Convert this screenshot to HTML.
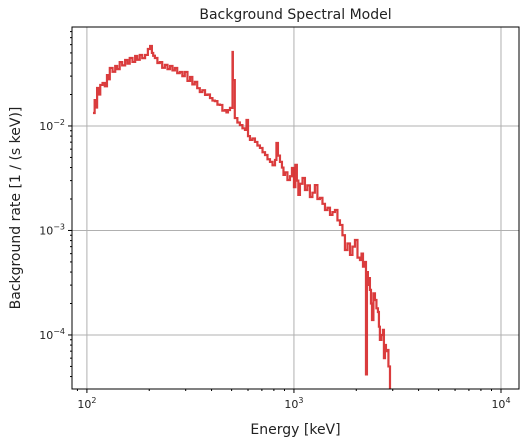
<!DOCTYPE html>
<html><head><meta charset="utf-8">
<style>
body{margin:0;background:#fff;font-family:"Liberation Sans","DejaVu Sans",sans-serif;}
svg text{font-family:"DejaVu Sans","Liberation Sans",sans-serif;fill:#222;}
</style></head>
<body>
<svg id="chart" width="527" height="442" xmlns="http://www.w3.org/2000/svg"></svg>
<script>
const energies=[107,109,111,112,114,116,119,122,125,127,129,133,137,140,144,148,153,157,161,166,171,175,180,185,191,197,202,206,209,213,219,225,231,238,245,252,259,266,273,281,289,297,306,315,323,332,341,351,361,372,382,393,404,415,427,439,451,464,472,480,491,505,507,518,533,548,564,580,590,600,613,630,648,666,685,705,725,745,766,788,810,823,837,856,875,890,905,930,957,978,1000,1016,1033,1050,1069,1100,1130,1160,1194,1228,1262,1298,1335,1373,1412,1452,1493,1535,1578,1622,1668,1715,1763,1813,1865,1917,1971,2027,2084,2120,2155,2190,2228,2252,2276,2302,2328,2355,2382,2420,2462,2503,2545,2573,2601,2645,2690,2720,2752,2782,2813,2860,2910];
const rates=[0.0133,0.0177,0.0150,0.0231,0.0200,0.0247,0.0258,0.0240,0.0307,0.0280,0.0359,0.0330,0.0375,0.0350,0.0409,0.0380,0.0428,0.0395,0.0447,0.0410,0.0468,0.0430,0.0478,0.0445,0.0478,0.0545,0.0583,0.0500,0.0470,0.0447,0.0400,0.0409,0.0360,0.0384,0.0350,0.0375,0.0340,0.0359,0.0320,0.0329,0.0300,0.0329,0.0270,0.0294,0.0250,0.0264,0.0230,0.0211,0.0220,0.0198,0.0200,0.0185,0.0175,0.0173,0.0160,0.0159,0.0140,0.0142,0.0135,0.0142,0.0149,0.0510,0.0275,0.0119,0.0108,0.0102,0.0095,0.00916,0.0114,0.00800,0.00735,0.00760,0.00703,0.00650,0.00616,0.00560,0.00527,0.00480,0.00453,0.00420,0.00473,0.00687,0.00520,0.00453,0.00400,0.00340,0.00360,0.00304,0.00330,0.00396,0.00260,0.00424,0.00300,0.00219,0.00280,0.00318,0.00244,0.00270,0.00209,0.00230,0.00272,0.00200,0.00205,0.00180,0.00157,0.00165,0.00141,0.00150,0.00157,0.00125,0.00113,0.00090,0.00065,0.00075,0.000583,0.00070,0.00081,0.00055,0.000522,0.00060,0.00045,0.00050,0.000042,0.00040,0.000301,0.00035,0.000270,0.00020,0.000139,0.00025,0.000216,0.00018,0.000166,0.00012,0.0000896,0.00010,0.000112,0.00006,0.0000802,0.00007,0.0000718,0.00005,0.0000304];
const xTicks=[100,1000,10000];
const xTickLabels=[["10","2"],["10","3"],["10","4"]];
const yTicks=[1e-2,1e-3,1e-4];
const yTickLabels=[["10","−2"],["10","−3"],["10","−4"]];

const L=72,R=519,T=27,B=389;
const xmin=1.928,xmax=4.087,ymin=-4.517,ymax=-1.053;
const xs=v=>L+(Math.log10(v)-xmin)/(xmax-xmin)*(R-L);
const ys=v=>B-(Math.log10(v)-ymin)/(ymax-ymin)*(B-T);
const svg=document.getElementById('chart');
const NS="http://www.w3.org/2000/svg";
function mk(tag,attrs,parent){const e=document.createElementNS(NS,tag);for(const k in attrs)e.setAttribute(k,attrs[k]);(parent||svg).appendChild(e);return e;}

const defs=mk('defs',{});const cp=mk('clipPath',{id:'clip'},defs);mk('rect',{x:L,y:T,width:R-L,height:B-T},cp);

xTicks.forEach(v=>{const g=mk('line',{x1:xs(v),x2:xs(v),y1:T,y2:B,stroke:'#b0b0b0','stroke-width':1});

});
yTicks.forEach(v=>{const g=mk('line',{x1:L,x2:R,y1:ys(v),y2:ys(v),stroke:'#b0b0b0','stroke-width':1});

});

let d='';
for(let i=0;i<energies.length;i++){
  const x=xs(energies[i]),y=ys(Math.max(rates[i],1e-6));
  if(i===0)d+=`M${x},${y}`;else d+=`H${x}V${y}`;
}
const ser=mk('path',{d:d,fill:'none',stroke:'#d62728','stroke-opacity':0.9,'stroke-width':2.2});


ser.setAttribute('clip-path','url(#clip)');

const fr=mk('rect',{x:L,y:T,width:R-L,height:B-T,fill:'none',stroke:'#000','stroke-width':1});



xTicks.forEach((v,i)=>{
  mk('line',{x1:xs(v),x2:xs(v),y1:B,y2:B+4,stroke:'#000'});
  const t=mk('text',{x:xs(v),y:B+19,'text-anchor':'middle','font-size':11});
  
  
  t.innerHTML=`${xTickLabels[i][0]}<tspan dy="-5" font-size="8">${xTickLabels[i][1]}</tspan>`;
});
for(let dec=1;dec<=4;dec++)for(let m=2;m<10;m++){const v=m*Math.pow(10,dec);const x=xs(v);if(x>L&&x<R)mk('line',{x1:x,x2:x,y1:B,y2:B+2,stroke:'#000'});}
yTicks.forEach((v,i)=>{
  mk('line',{x1:L-4,x2:L,y1:ys(v),y2:ys(v),stroke:'#000'});
  const t=mk('text',{x:L-7,y:ys(v)+4,'text-anchor':'end','font-size':11});
  
  
  t.innerHTML=`${yTickLabels[i][0]}<tspan dy="-5" font-size="8">${yTickLabels[i][1]}</tspan>`;
});
for(let dec=-5;dec<=-1;dec++)for(let m=2;m<10;m++){const v=m*Math.pow(10,dec);const y=ys(v);if(y>T&&y<B)mk('line',{x1:L-2,x2:L,y1:y,y2:y,stroke:'#000'});}

const title=mk('text',{x:(L+R)/2,y:19,'text-anchor':'middle','font-size':14});title.textContent='Background Spectral Model';


const xl=mk('text',{x:(L+R)/2,y:434,'text-anchor':'middle','font-size':14});xl.textContent='Energy [keV]';


const yl=mk('text',{x:0,y:0,'text-anchor':'middle','font-size':14,transform:`translate(20,${(T+B)/2}) rotate(-90)`});yl.textContent='Background rate [1 / (s keV)]';


</script>
</body></html>
